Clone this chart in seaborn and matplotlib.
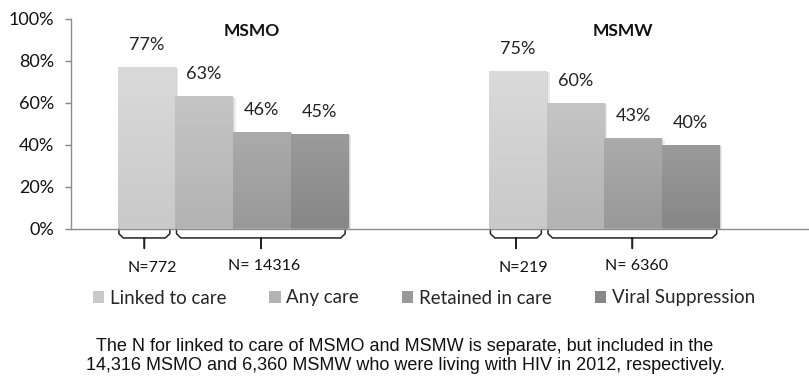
import numpy as np
import pandas as pd
import matplotlib
matplotlib.use("Agg")
import matplotlib.pyplot as plt
import matplotlib.patheffects as pe
from matplotlib.colors import LinearSegmentedColormap
import seaborn as sns

# Care continuum for MSMO / MSMW living with HIV
groups = ["MSMO", "MSMW"]
stages = ["Linked to care", "Any care", "Retained in care", "Viral Suppression"]
msmo_pct = [77, 63, 46, 45]
msmw_pct = [75, 60, 43, 40]
linked_n = ["N=772", "N=219"]
total_n = ["N= 14316", "N= 6360"]
y_ticks = [0, 20, 40, 60, 80, 100]
footnote = ("The N for linked to care of MSMO and MSMW is separate, but included in the\n"
            "14,316 MSMO and 6,360 MSMW who were living with HIV in 2012, respectively.")

# gradient end colours (top, bottom) for each stage
top_colors = ["#dadada", "#c5c5c5", "#ababab", "#9b9b9b"]
bottom_colors = ["#c9c9c9", "#b3b3b3", "#999999", "#878787"]

df = pd.DataFrame({
    "group": np.repeat(groups, len(stages)),
    "stage": stages * len(groups),
    "pct": msmo_pct + msmw_pct,
})

sns.set_style("white")
plt.rcParams["font.family"] = ["Lato", "DejaVu Sans"]

fig = plt.figure(figsize=(8.09, 3.83), dpi=100)
ax = fig.add_axes([71 / 809, 154.5 / 383, 1 - 71 / 809, 210 / 383])

sns.barplot(data=df, x="group", y="pct", hue="stage", hue_order=stages,
            order=groups, palette=top_colors, width=0.62, gap=0,
            saturation=1, legend=False, ax=ax, zorder=2)

ax.set_ylim(0, 100)
ax.set_xlim(-0.436, 1.5505)

# vertical gradient fill and soft shadow on each bar
for ci, cont in enumerate(ax.containers):
    cmap = LinearSegmentedColormap.from_list(f"g{ci}", [bottom_colors[ci], top_colors[ci]])
    grad = np.linspace(0, 1, 64).reshape(-1, 1)
    for patch in cont.patches:
        patch.set_edgecolor("none")
        patch.set_path_effects([
            pe.SimplePatchShadow(offset=(2.0, -1.0), shadow_rgbFace="#000000", alpha=0.08),
            pe.SimplePatchShadow(offset=(1.0, -0.5), shadow_rgbFace="#000000", alpha=0.10),
            pe.Normal()])
        x0, y0 = patch.get_x(), patch.get_y()
        w, h = patch.get_width(), patch.get_height()
        im = ax.imshow(grad, cmap=cmap, aspect="auto", origin="lower",
                       extent=(x0, x0 + w, y0, y0 + h), zorder=3)
        im.set_clip_path(patch)
    ax.bar_label(cont, labels=[f"{v:.0f}%" for v in cont.datavalues],
                 padding=10, fontsize=13, color="#222222", zorder=4)

ax.set_yticks(y_ticks)
ax.set_yticklabels([f"{t}%" for t in y_ticks], fontsize=13, color="#111111")
ax.set_xticks([])
ax.set_xlabel("")
ax.set_ylabel("")
ax.tick_params(axis="y", which="major", direction="out", length=4, width=1,
               color="#888888", pad=8, left=True)
for side in ["top", "right"]:
    ax.spines[side].set_visible(False)
for side in ["left", "bottom"]:
    ax.spines[side].set_color("#8c8c8c")
    ax.spines[side].set_linewidth(1.0)
ax.set_aspect("auto")

# group titles
for gi, g in enumerate(groups):
    ax.text(gi + 0.05, 0.94, g, transform=ax.get_xaxis_transform(),
            ha="center", va="center", fontsize=12.5, fontweight="bold", color="#111111")

# braces under the axis grouping "linked" and the remaining stages
trans = ax.get_xaxis_transform()
y_top, y_mid, y_tip = -0.004, -0.045, -0.095
r = 0.012


def brace(x1, x2, xc):
    xs = [x1, x1, x1 + r, xc - r * 0.6, xc, xc, xc, xc + r * 0.6, x2 - r, x2, x2]
    ys = [y_top, y_mid + 0.02, y_mid, y_mid, y_mid, y_tip, y_mid, y_mid, y_mid, y_mid + 0.02, y_top]
    ax.plot(xs, ys, transform=trans, color="#222222", lw=1.1, clip_on=False,
            solid_joinstyle="round")


for gi in range(len(groups)):
    bars = [cont.patches[gi] for cont in ax.containers]
    b0 = bars[0]
    l1, r1 = b0.get_x() + 0.003, b0.get_x() + b0.get_width() - 0.015
    l2, r2 = bars[1].get_x() + 0.003, bars[-1].get_x() + bars[-1].get_width() - 0.008
    brace(l1, r1, (l1 + r1) / 2)
    brace(l2, r2, (l2 + r2) / 2)
    ax.text((l1 + r1) / 2 + 0.02, -0.19, linked_n[gi], transform=trans,
            ha="center", va="center", fontsize=11.5, color="#111111")
    ax.text((l2 + r2) / 2 + 0.01, -0.18, total_n[gi], transform=trans,
            ha="center", va="center", fontsize=11.5, color="#111111")

# legend
handles = [plt.Rectangle((0, 0), 1, 1, facecolor=c, edgecolor="none") for c in bottom_colors]
fig.legend(handles, stages, loc="center", bbox_to_anchor=(424 / 809, 85 / 383),
           ncol=4, frameon=False, fontsize=13.5, handlelength=0.6, handleheight=0.6,
           handletextpad=0.3, columnspacing=2.3)

fig.text(405 / 809, 27 / 383, footnote, ha="center", va="center",
         family=["Liberation Sans", "DejaVu Sans"], fontsize=13, linespacing=1.12,
         color="#111111")

fig.savefig("out.png", dpi=100)
